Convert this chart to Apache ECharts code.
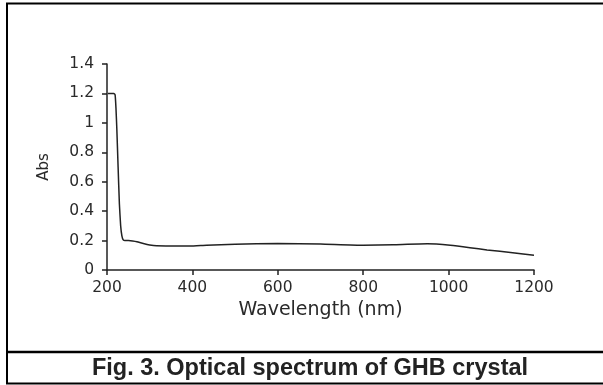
<!DOCTYPE html>
<html><head><meta charset="utf-8">
<script src="https://cdn.jsdelivr.net/npm/echarts@6/dist/echarts.min.js"></script>
<style>html,body{margin:0;padding:0;background:#fff}#c{width:603px;height:385px}</style>
</head><body><div id="c"></div>
<script>
var wavelength = [202,210,216,219,221,223,226,229,232,235,238,242,250,260,270,285,300,316,350,394,433,500,600,700,800,870,950,1004,1050,1090,1150,1200];
var absorbance = [1.2,1.2,1.2,1.19,1.1,0.96,0.7,0.45,0.3,0.23,0.205,0.2,0.2,0.197,0.192,0.18,0.17,0.164,0.163,0.163,0.169,0.175,0.18,0.176,0.168,0.172,0.178,0.168,0.152,0.136,0.118,0.1];
var xTicks = [200,400,600,800,1000,1200];
var yTicks = [0,0.2,0.4,0.6,0.8,1,1.2,1.4];
var caption = 'Fig. 3. Optical spectrum of GHB crystal';

var chart = echarts.init(document.getElementById('c'));
var font = '"DejaVu Sans", Verdana, sans-serif';
chart.setOption({
  animation:false,
  grid:{left:107,right:69,top:64,bottom:115},
  xAxis:{type:'value',min:200,max:1200,interval:200,
    name:'Wavelength (nm)',nameLocation:'middle',nameGap:31,
    nameTextStyle:{fontFamily:font,fontSize:19,color:'#2a2a2a'},
    axisLine:{lineStyle:{color:'#222',width:1.5}},
    axisTick:{length:5,lineStyle:{color:'#222',width:1.5}},
    axisLabel:{fontFamily:font,fontSize:15.5,color:'#2a2a2a',margin:10,
      formatter:function(v){return xTicks.indexOf(v)>=0?String(v):'';}},
    splitLine:{show:false}},
  yAxis:{type:'value',min:0,max:1.4,interval:0.2,
    name:'Abs',nameLocation:'middle',nameGap:55,
    nameTextStyle:{fontFamily:font,fontSize:15,color:'#2a2a2a'},
    axisLine:{show:true,lineStyle:{color:'#222',width:1.5}},
    axisTick:{show:true,length:5,lineStyle:{color:'#222',width:1.5}},
    axisLabel:{fontFamily:font,fontSize:15.5,color:'#2a2a2a',margin:13,
      formatter:function(v){var r=Math.round(v*10)/10;return yTicks.indexOf(r)>=0?String(r):'';}},
    splitLine:{show:false}},
  series:[{type:'line',data:wavelength.map(function(w,i){return [w,absorbance[i]];}),
    showSymbol:false,smooth:0.15,lineStyle:{color:'#222',width:1.5}}],
  graphic:[
    {type:'rect',shape:{x:7,y:3.5,width:620,height:380},style:{fill:'none',stroke:'#000',lineWidth:2},silent:true},
    {type:'line',shape:{x1:7,y1:352,x2:620,y2:352},style:{stroke:'#000',lineWidth:2.5},silent:true},
    {type:'text',x:310,y:369,style:{text:caption,font:'bold 23.5px "Liberation Sans", Arial, sans-serif',fill:'#222',align:'center',verticalAlign:'middle'},silent:true}
  ]
});
</script></body></html>
